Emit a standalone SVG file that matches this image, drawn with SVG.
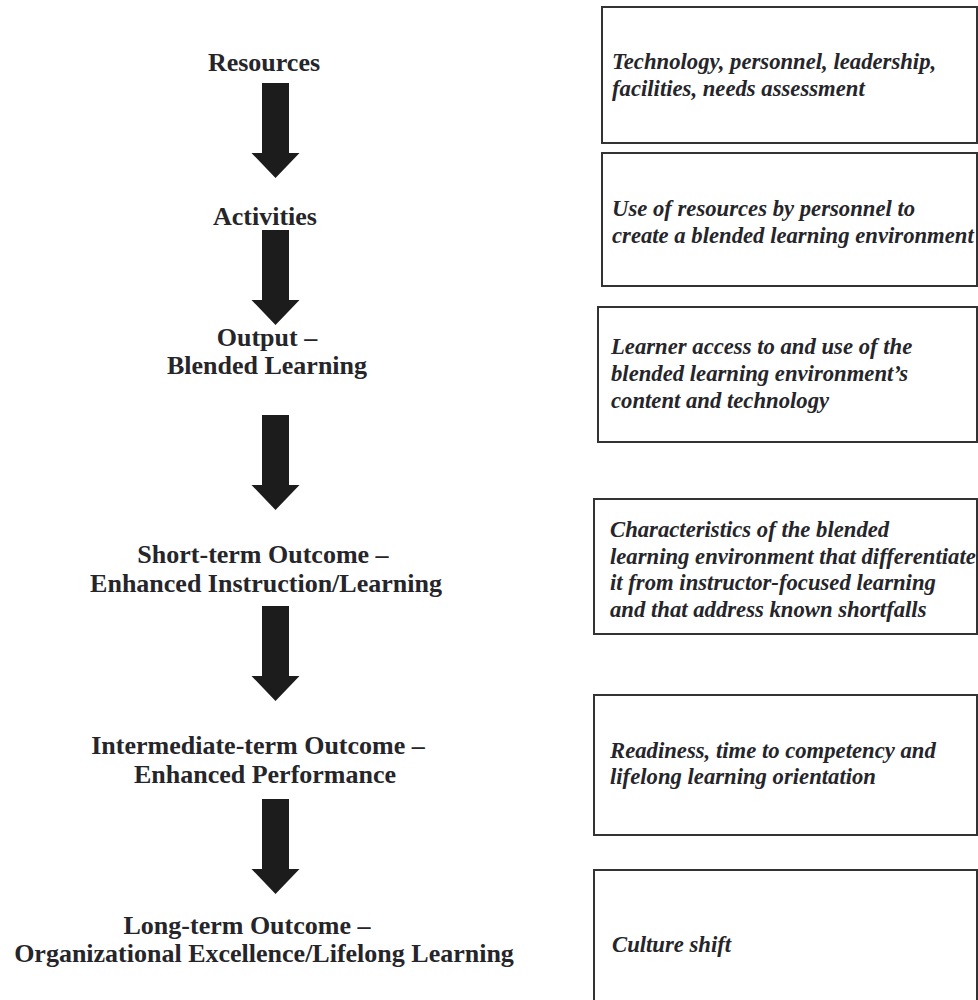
<svg xmlns="http://www.w3.org/2000/svg" xmlns:xlink="http://www.w3.org/1999/xlink" width="978" height="1000" viewBox="0 0 978 1000">
<style>
.lbl{font-family:"Liberation Serif","Times New Roman",serif;font-weight:bold;font-size:26px;fill:#25252a;text-anchor:middle}
.desc{font-family:"Liberation Serif","Times New Roman",serif;font-weight:bold;font-style:italic;font-size:22.7px;fill:#25252a}
.box{fill:#fff;stroke:#333;stroke-width:2}
.arr{fill:#1c1c1c}
</style>
<defs>
<path id="arrow" d="M-13.5,0 H13.5 V70 H24 L0,95 L-24,70 H-13.5 Z"/>
</defs>
<rect width="978" height="1000" fill="#fff"/>
<g id="connectors" class="arr">
<use xlink:href="#arrow" x="275.5" y="83"/>
<use xlink:href="#arrow" x="275.5" y="230"/>
<use xlink:href="#arrow" x="275.5" y="415"/>
<use xlink:href="#arrow" x="275.5" y="606"/>
<use xlink:href="#arrow" x="275.5" y="799"/>
</g>
<g id="resources"><text class="lbl" x="264" y="71">Resources</text></g>
<g id="activities"><text class="lbl" x="265" y="225">Activities</text></g>
<g id="output"><text class="lbl" x="267" y="346">Output –</text><text class="lbl" x="267" y="374">Blended Learning</text></g>
<g id="short-term"><text class="lbl" x="263" y="563">Short-term Outcome –</text><text class="lbl" x="266" y="592">Enhanced Instruction/Learning</text></g>
<g id="intermediate-term"><text class="lbl" x="258" y="754">Intermediate-term Outcome –</text><text class="lbl" x="265" y="783">Enhanced Performance</text></g>
<g id="long-term"><text class="lbl" x="247" y="934">Long-term Outcome –</text><text class="lbl" x="264" y="962">Organizational Excellence/Lifelong Learning</text></g>
<g id="box-resources"><rect class="box" x="602" y="7" width="375" height="136"/><text class="desc" x="612" y="69">Technology, personnel, leadership,</text><text class="desc" x="612" y="96">facilities, needs assessment</text></g>
<g id="box-activities"><rect class="box" x="602" y="153" width="375" height="133"/><text class="desc" x="612" y="216">Use of resources by personnel to</text><text class="desc" x="612" y="243">create a blended learning environment</text></g>
<g id="box-output"><rect class="box" x="598" y="307" width="379" height="135"/><text class="desc" x="611" y="354">Learner access to and use of the</text><text class="desc" x="611" y="381">blended learning environment’s</text><text class="desc" x="611" y="408">content and technology</text></g>
<g id="box-short-term"><rect class="box" x="594" y="499" width="383" height="135"/><text class="desc" x="610" y="537">Characteristics of the blended</text><text class="desc" x="610" y="564">learning environment that differentiate</text><text class="desc" x="610" y="590">it from instructor-focused learning</text><text class="desc" x="610" y="617">and that address known shortfalls</text></g>
<g id="box-intermediate-term"><rect class="box" x="594" y="695" width="383" height="140"/><text class="desc" x="610" y="758">Readiness, time to competency and</text><text class="desc" x="610" y="784">lifelong learning orientation</text></g>
<g id="box-long-term"><rect class="box" x="594" y="870" width="383" height="140"/><text class="desc" x="612" y="952">Culture shift</text></g>
</svg>
